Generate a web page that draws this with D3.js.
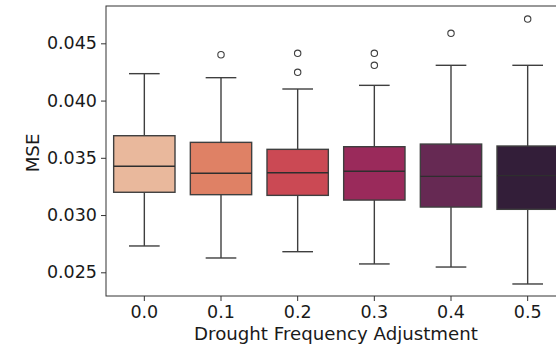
<!DOCTYPE html>
<html>
<head>
<meta charset="utf-8">
<script src="https://cdn.jsdelivr.net/npm/d3@7"></script>
<style>
  html, body { margin: 0; padding: 0; background: #fff; overflow: hidden; }
  svg { display: block; font-family: "DejaVu Sans", sans-serif; }
</style>
</head>
<body>
<svg id="chart" width="556" height="344"></svg>
<script>
// ---- data ----
const categories = ["0.0", "0.1", "0.2", "0.3", "0.4", "0.5"];
const whiskerLow  = [0.02730, 0.02625, 0.02680, 0.02573, 0.02546, 0.02398];
const q1          = [0.03199, 0.03178, 0.03172, 0.03131, 0.03070, 0.03050];
const median      = [0.03426, 0.03365, 0.03370, 0.03382, 0.03338, 0.03344];
const q3          = [0.03693, 0.03635, 0.03574, 0.03597, 0.03620, 0.03603];
const whiskerHigh = [0.04235, 0.04200, 0.04101, 0.04133, 0.04308, 0.04308];
const outliers    = [[], [0.04400], [0.04413, 0.04247], [0.04413, 0.04308], [0.04587], [0.04712]];
const yTicks      = [0.025, 0.030, 0.035, 0.040, 0.045];
const palette     = ["#f6b48f", "#f37651", "#e13342", "#ad1759", "#701f57", "#35193e"];
const xLabel = "Drought Frequency Adjustment";
const yLabel = "MSE";

// ---- layout ----
const margin = { left: 106, top: 6, right: 566, bottom: 296 };
const svg = d3.select("#chart");

const x = d3.scaleBand().domain(categories).range([margin.left, margin.right]).padding(0);
const y = d3.scaleLinear().domain([0.02293, 0.04826]).range([margin.bottom, margin.top]);

const desat = c => { const h = d3.hsl(c); h.s *= 0.75; return h.formatHex(); };
const lineColor = "#3f3f3f";
const bw = x.bandwidth();
const boxW = bw * 0.8;
const capW = bw * 0.4;

const data = categories.map((c, i) => ({
  c, lo: whiskerLow[i], q1: q1[i], med: median[i], q3: q3[i], hi: whiskerHigh[i],
  out: outliers[i], color: desat(palette[i])
}));

const g = svg.append("g");
const groups = g.selectAll("g.box").data(data).enter().append("g").attr("class", "box");
const cx = d => x(d.c) + bw / 2;

// whiskers
groups.append("line").attr("x1", cx).attr("x2", cx)
  .attr("y1", d => y(d.q3)).attr("y2", d => y(d.hi))
  .attr("stroke", lineColor).attr("stroke-width", 1.4);
groups.append("line").attr("x1", cx).attr("x2", cx)
  .attr("y1", d => y(d.q1)).attr("y2", d => y(d.lo))
  .attr("stroke", lineColor).attr("stroke-width", 1.4);
// caps
groups.append("line").attr("x1", d => cx(d) - capW / 2).attr("x2", d => cx(d) + capW / 2)
  .attr("y1", d => y(d.hi)).attr("y2", d => y(d.hi))
  .attr("stroke", lineColor).attr("stroke-width", 1.4);
groups.append("line").attr("x1", d => cx(d) - capW / 2).attr("x2", d => cx(d) + capW / 2)
  .attr("y1", d => y(d.lo)).attr("y2", d => y(d.lo))
  .attr("stroke", lineColor).attr("stroke-width", 1.4);
// boxes
groups.append("rect")
  .attr("x", d => cx(d) - boxW / 2).attr("width", boxW)
  .attr("y", d => y(d.q3)).attr("height", d => y(d.q1) - y(d.q3))
  .attr("fill", d => d.color).attr("stroke", lineColor).attr("stroke-width", 1.4);
// medians
groups.append("line").attr("x1", d => cx(d) - boxW / 2).attr("x2", d => cx(d) + boxW / 2)
  .attr("y1", d => y(d.med)).attr("y2", d => y(d.med))
  .attr("stroke", "#2e2e2e").attr("stroke-width", 1.4);
// outliers
groups.selectAll("circle").data(d => d.out.map(v => ({ v, d }))).enter().append("circle")
  .attr("cx", o => cx(o.d)).attr("cy", o => y(o.v)).attr("r", 3.2)
  .attr("fill", "none").attr("stroke", lineColor).attr("stroke-width", 1.1);

// ---- axes ----
const fontSize = 17.5;
const labelSize = 18.2;
const yAxis = svg.append("g").attr("transform", `translate(${margin.left},0)`)
  .call(d3.axisLeft(y).tickValues(yTicks).tickFormat(d3.format(".3f")).tickSize(5).tickPadding(4));
const xAxis = svg.append("g").attr("transform", `translate(0,${margin.bottom})`)
  .call(d3.axisBottom(x).tickSize(5).tickPadding(5));
[yAxis, xAxis].forEach(a => {
  a.select(".domain").remove();
  a.selectAll(".tick line").attr("stroke", "#333").attr("stroke-width", 1);
  a.selectAll(".tick text").attr("fill", "#1a1a1a").style("font-size", fontSize + "px")
    .style("font-family", "'DejaVu Sans', sans-serif");
});

// spines
svg.append("rect")
  .attr("x", margin.left).attr("y", margin.top)
  .attr("width", margin.right - margin.left).attr("height", margin.bottom - margin.top)
  .attr("fill", "none").attr("stroke", "#333").attr("stroke-width", 1);

// labels
svg.append("text").attr("x", (margin.left + margin.right) / 2).attr("y", 340)
  .attr("text-anchor", "middle").attr("fill", "#1a1a1a").style("font-size", labelSize + "px")
  .text(xLabel);
svg.append("text").attr("transform", `translate(39,${(margin.top + margin.bottom) / 2 + 2}) rotate(-90)`)
  .attr("text-anchor", "middle").attr("fill", "#1a1a1a").style("font-size", labelSize + "px")
  .text(yLabel);
</script>
</body>
</html>
